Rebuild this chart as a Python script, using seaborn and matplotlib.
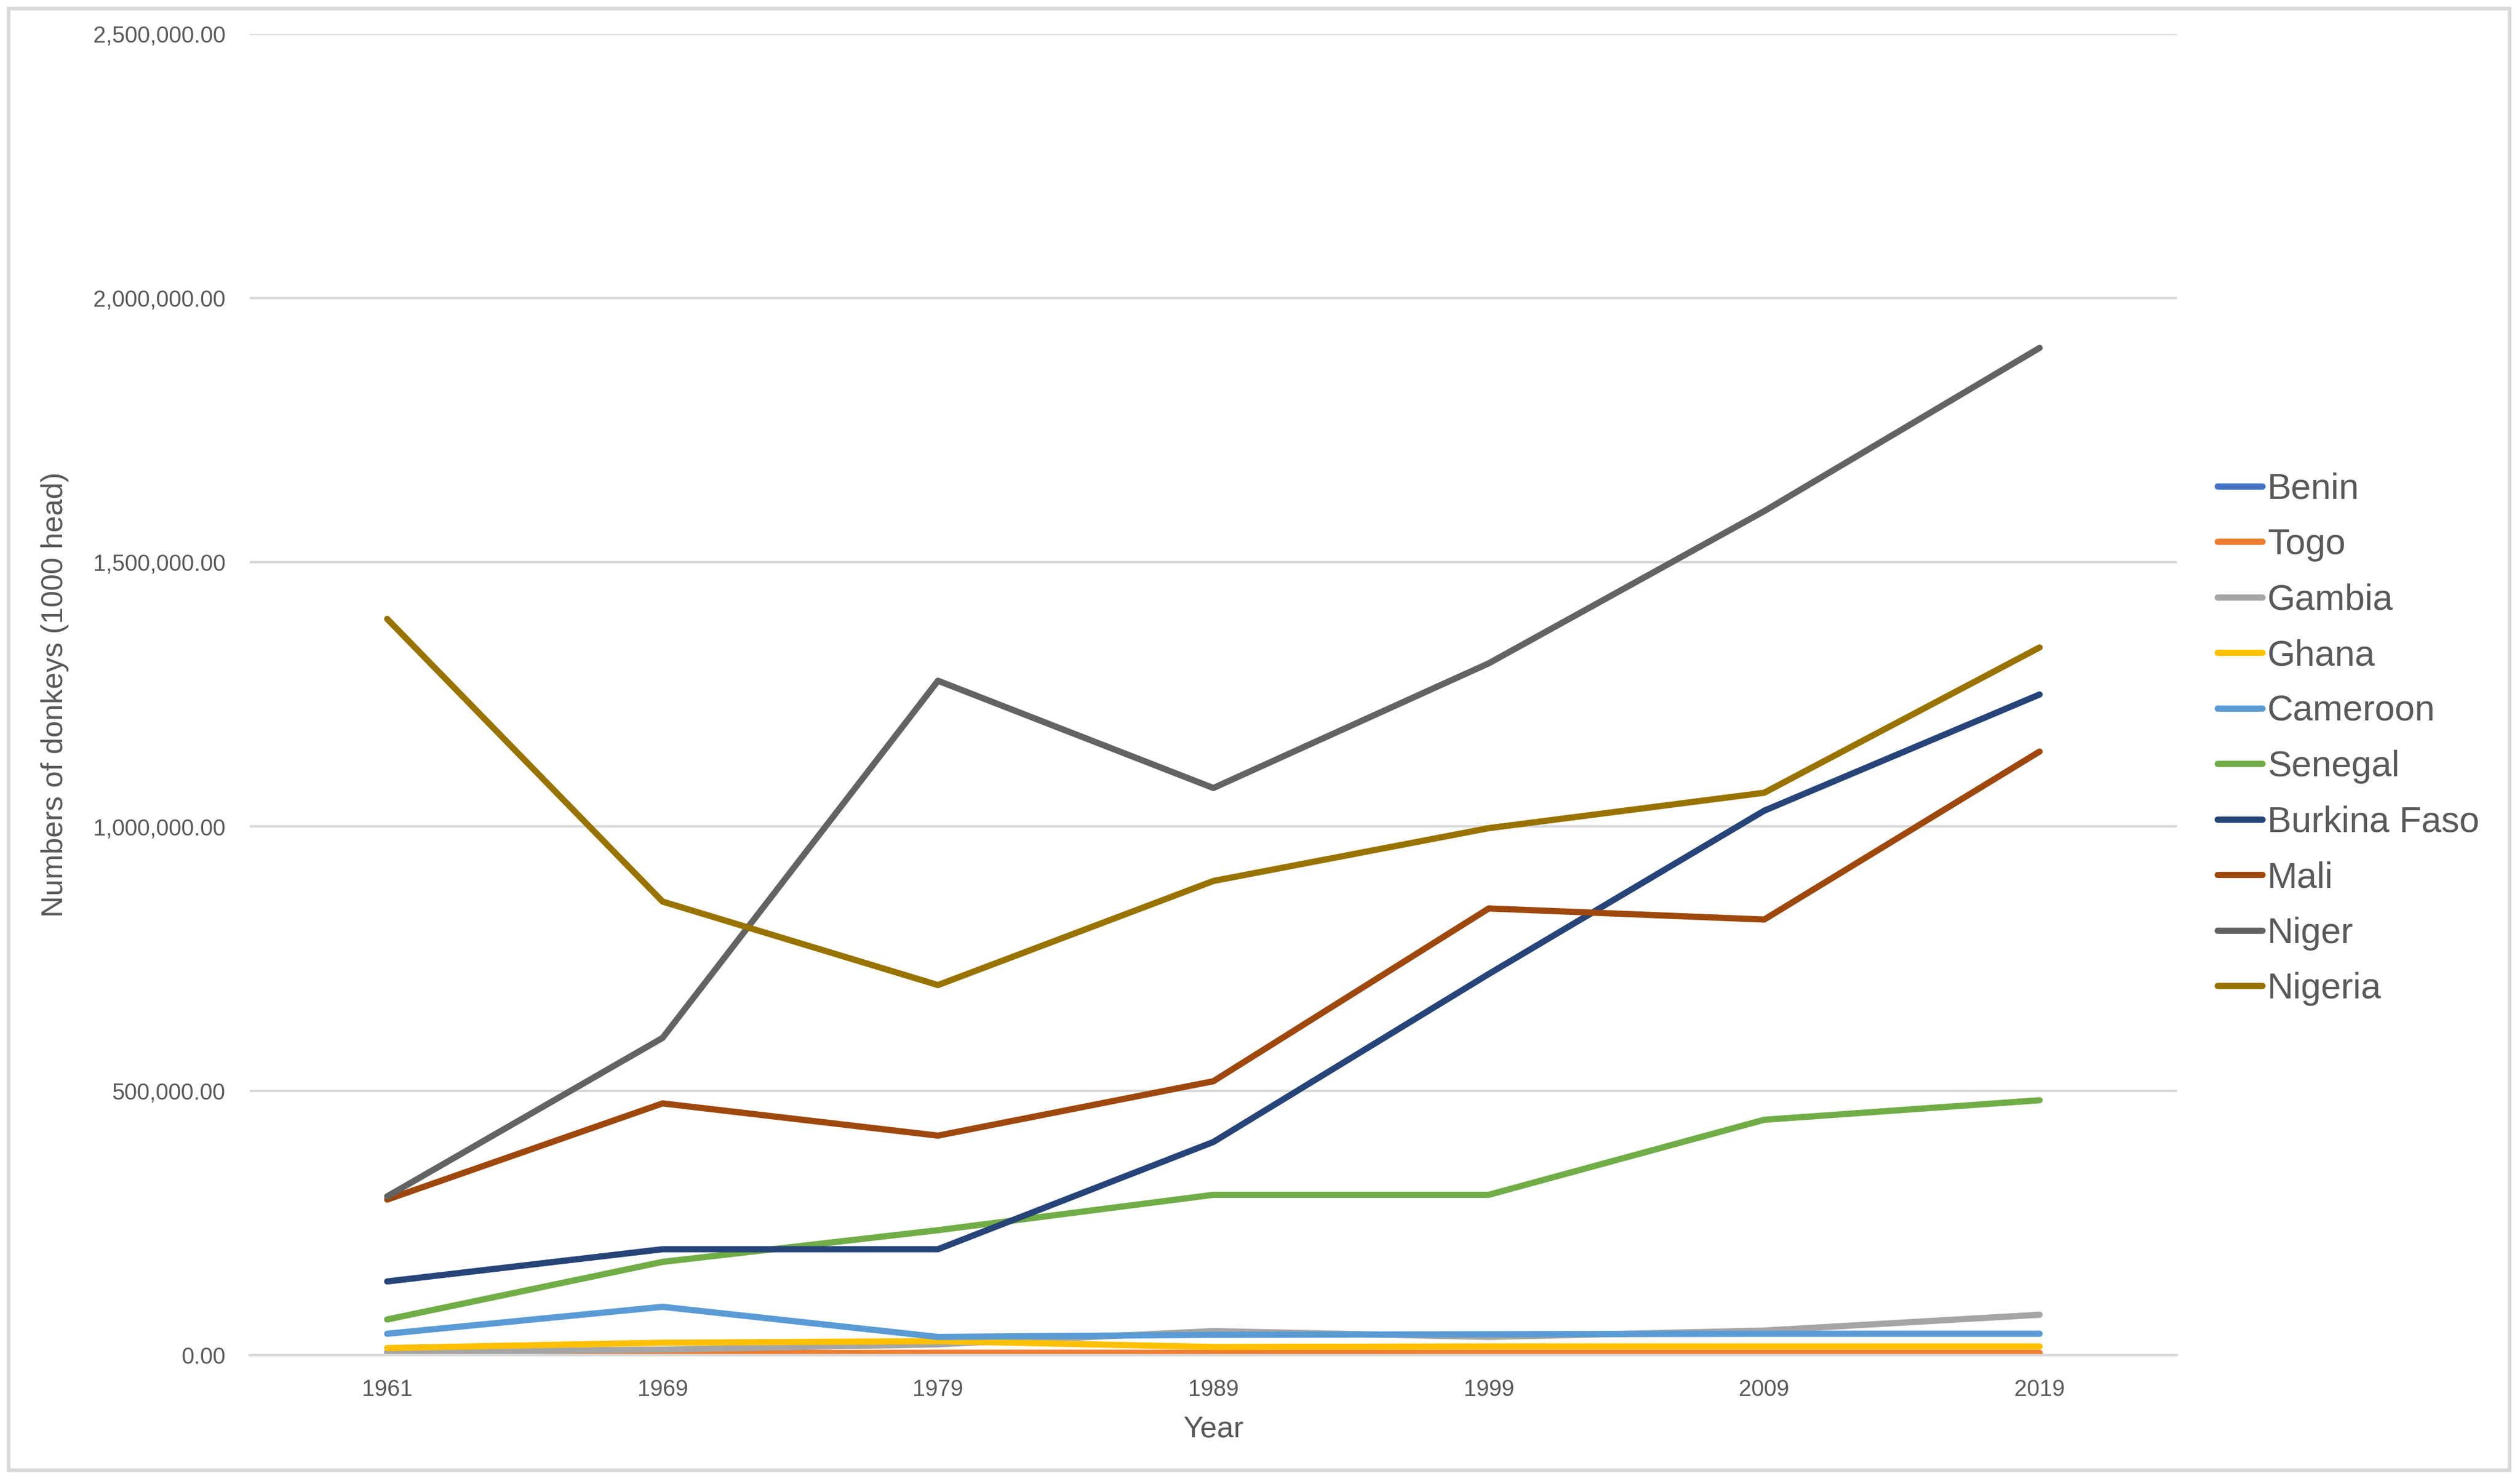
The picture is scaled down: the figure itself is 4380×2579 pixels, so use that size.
import pandas as pd
import matplotlib.pyplot as plt
import seaborn as sns
from matplotlib.ticker import FuncFormatter
from matplotlib.patches import Rectangle

# data (numbers of donkeys)
years = ['1961', '1969', '1979', '1989', '1999', '2009', '2019']
countries = ['Benin', 'Togo', 'Gambia', 'Ghana', 'Cameroon', 'Senegal',
             'Burkina Faso', 'Mali', 'Niger', 'Nigeria']
benin = [1000, 1000, 1000, 1000, 1000, 1000, 1000]
togo = [3000, 3000, 4000, 4000, 4000, 4000, 4000]
gambia = [5000, 10000, 20000, 45000, 34000, 46000, 76000]
ghana = [13000, 23000, 26000, 15000, 16000, 16000, 16000]
cameroon = [40000, 91000, 34000, 38000, 39000, 40000, 40000]
senegal = [67000, 176000, 236000, 303000, 303000, 445000, 482000]
burkina_faso = [139000, 200000, 200000, 403000, 721000, 1030000, 1250000]
mali = [294000, 476000, 415000, 518000, 845000, 824000, 1142000]
niger = [300000, 600000, 1276000, 1073000, 1309000, 1597000, 1906000]
nigeria = [1393000, 858000, 700000, 897000, 997000, 1064000, 1339000]

colors = ['#4472C4', '#ED7D31', '#A5A5A5', '#FFC000', '#5B9BD5', '#70AD47',
          '#264478', '#9E480E', '#636363', '#997300']

series = [benin, togo, gambia, ghana, cameroon, senegal, burkina_faso, mali, niger, nigeria]
rows = []
for name, vals in zip(countries, series):
    for i, (yr, v) in enumerate(zip(years, vals)):
        rows.append({'pos': i, 'Year': yr, 'Country': name, 'value': v})
df = pd.DataFrame(rows)

sns.set_style('white')
plt.rcParams['font.family'] = ['Liberation Sans', 'DejaVu Sans']

fig = plt.figure(figsize=(14.6, 8.597), dpi=300)
ax = fig.add_axes([0.099, 0.087, 0.765, 0.890])

sns.lineplot(data=df, x='pos', y='value', hue='Country', hue_order=countries,
             palette=colors, linewidth=2.6, ax=ax, legend=True)

ax.set_xlim(-0.5, 6.5)
ax.set_ylim(0, 2500000)
ax.set_xticks(range(len(years)))
ax.set_xticklabels(years)
ax.set_yticks([0, 500000, 1000000, 1500000, 2000000, 2500000])
ax.yaxis.set_major_formatter(FuncFormatter(lambda v, p: f'{v:,.2f}'))
ax.grid(axis='y', color='#D9D9D9', linewidth=1.0)
ax.set_axisbelow(True)
for s in ['top', 'right', 'left']:
    ax.spines[s].set_visible(False)
ax.spines['bottom'].set_color('#D9D9D9')
ax.spines['bottom'].set_linewidth(1.0)
ax.tick_params(axis='both', length=0, labelsize=9.5, labelcolor='#595959')
ax.tick_params(axis='y', pad=10)
ax.tick_params(axis='x', pad=10)

ax.set_xlabel('Year', fontsize=12.5, color='#595959', labelpad=6)
ax.set_ylabel('Numbers of donkeys (1000 head)', fontsize=12.5, color='#595959', labelpad=10)

handles, labels = ax.get_legend_handles_labels()
leg = ax.legend(handles, labels, loc='center left', bbox_to_anchor=(0.867, 0.502),
                bbox_transform=fig.transFigure, frameon=False, fontsize=15,
                handlelength=1.25, handletextpad=0.15, labelspacing=0.6,
                labelcolor='#595959')
for h in leg.get_lines():
    h.set_linewidth(2.6)

fig.patches.append(Rectangle((0.0034, 0.0093), 0.9926, 0.985, transform=fig.transFigure,
                             fill=False, edgecolor='#D9D9D9', linewidth=1.5))

fig.savefig('out.png', dpi=300, facecolor='white')
